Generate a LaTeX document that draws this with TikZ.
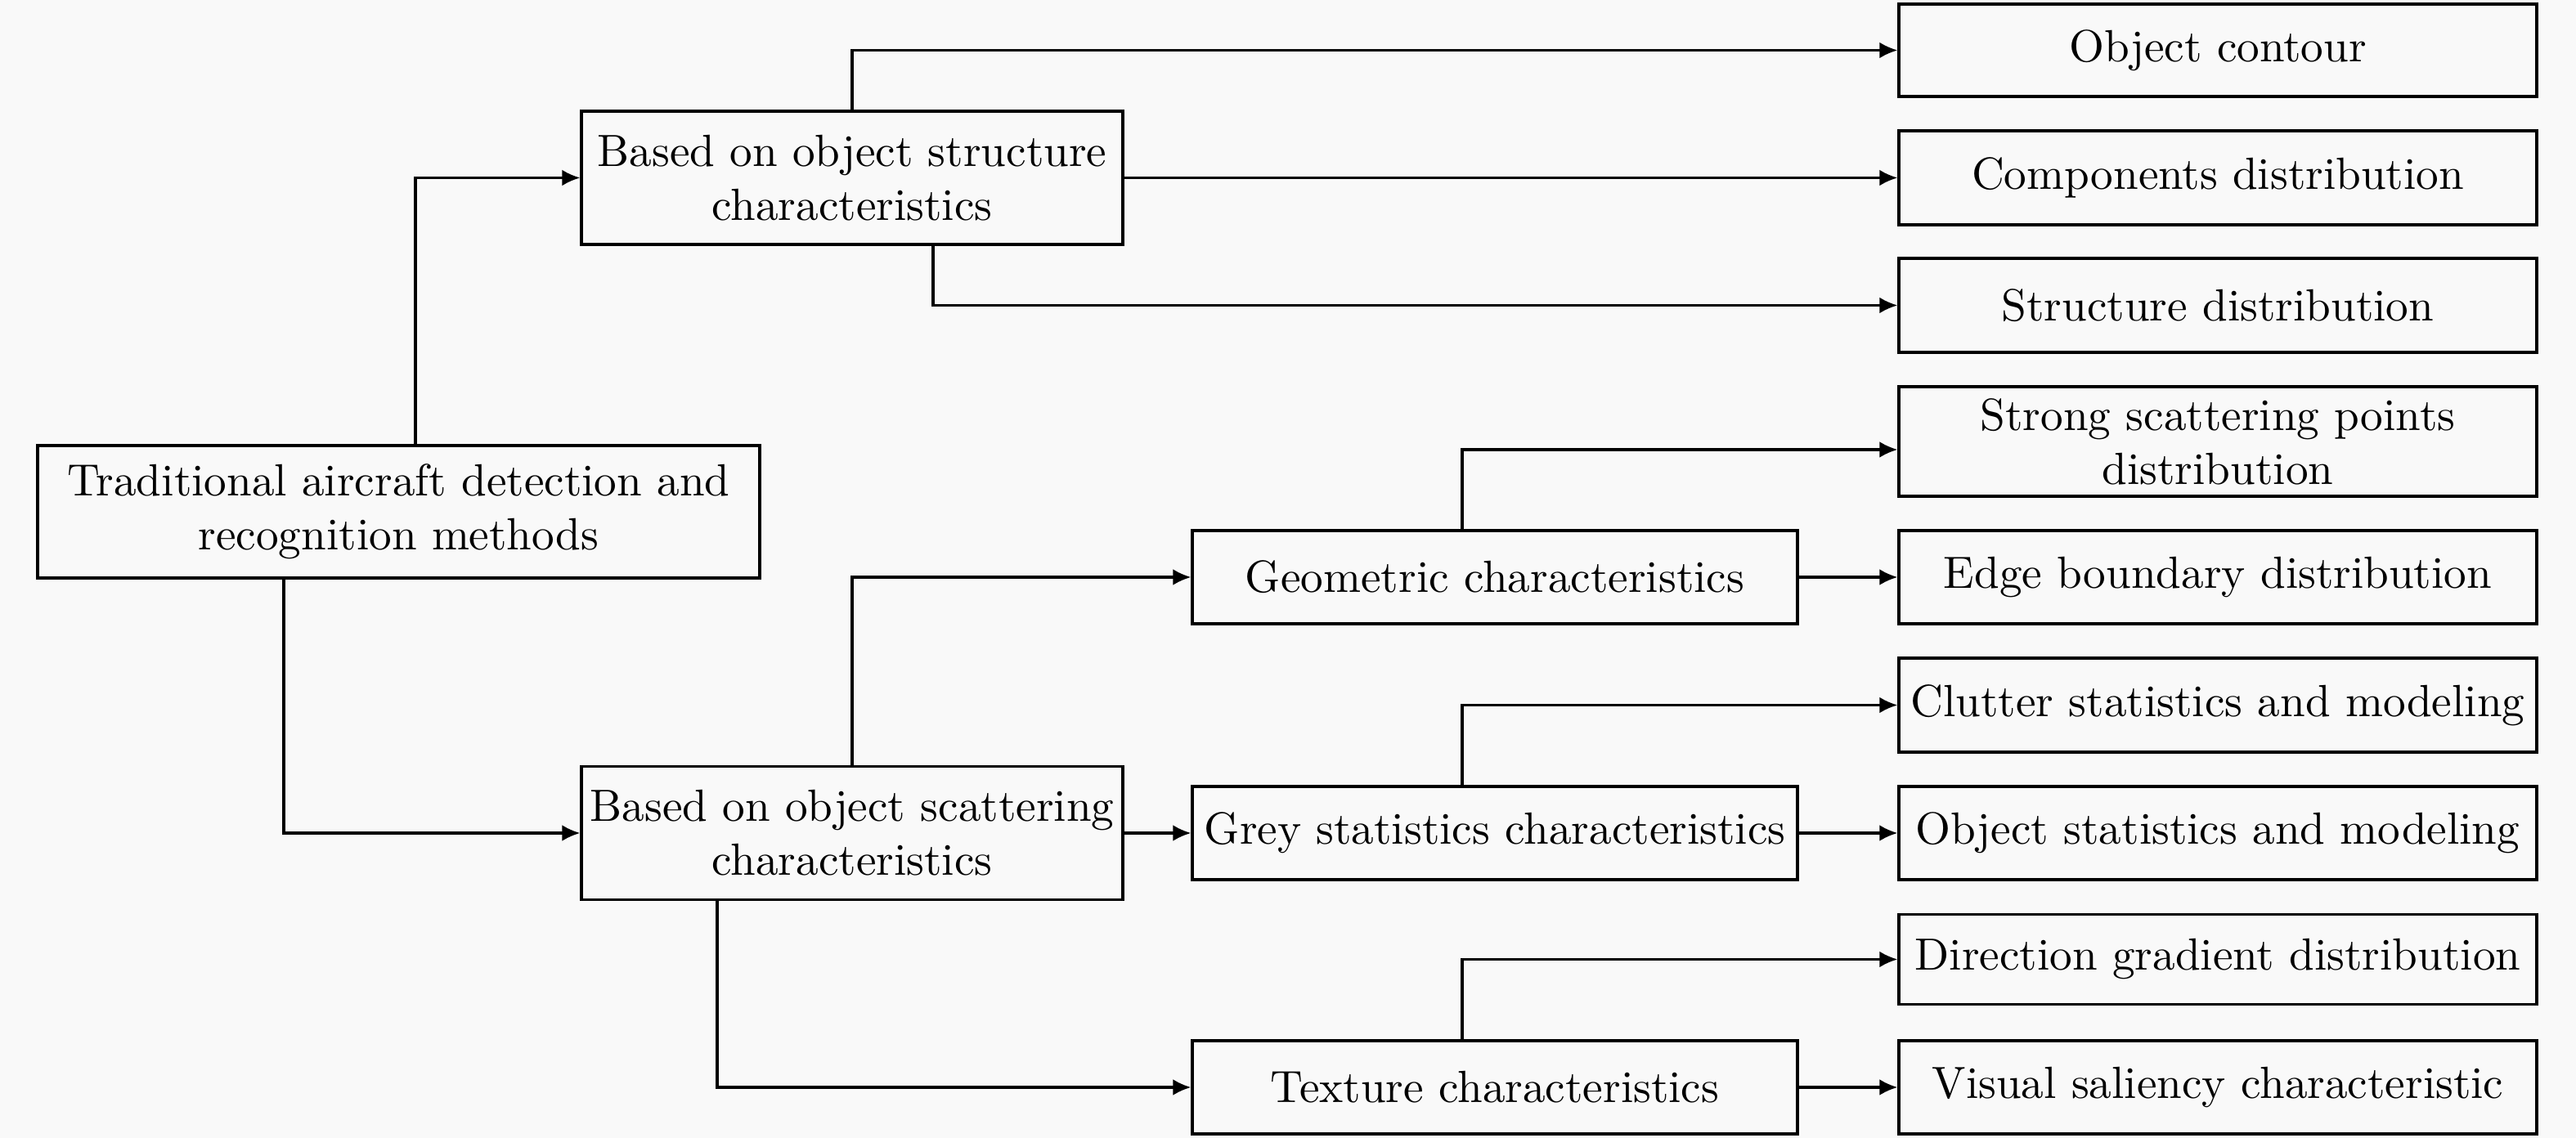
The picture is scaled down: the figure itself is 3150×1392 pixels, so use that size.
\documentclass[tikz,border=0pt]{standalone}
\usetikzlibrary{arrows.meta}
\definecolor{bgc}{RGB}{249,249,249}
\begin{document}
\begin{tikzpicture}[x=0.18116pt,y=-0.18116pt,
  box/.style={draw=black, line width=0.6pt, fill=bgc, align=center, inner sep=0pt},
  sz/.style 2 args={minimum width=#1*0.18116pt, minimum height=#2*0.18116pt},
  conn/.style={line width=0.55pt, -{Latex[length=4pt,width=3.6pt]}}]
\fill[bgc] (0,0) rectangle (3150,1392);
\useasboundingbox (0,0) rectangle (3150,1392);
% level 0
\node[box,sz={883}{162}] (root) at (487.5,626) {Traditional aircraft detection and\\recognition methods};
% level 1
\node[box,sz={662}{163}] (str) at (1042,217.5) {Based on object structure\\characteristics};
\node[box,sz={662}{163}] (sca) at (1042,1019) {Based on object scattering\\characteristics};
% level 2
\node[box,sz={740}{114}] (geo) at (1828,706) {Geometric characteristics};
\node[box,sz={740}{114}] (grey) at (1828,1019) {Grey statistics characteristics};
\node[box,sz={740}{114}] (tex) at (1828,1330) {Texture characteristics};
% leaves
\node[box,sz={780}{113}] (oc) at (2712,61.5) {Object contour};
\node[box,sz={780}{115}] (cd) at (2712,217.5) {Components distribution};
\node[box,sz={780}{115}] (sd) at (2712,373.5) {Structure distribution};
\node[box,sz={780}{134}] (ss) at (2712,540) {Strong scattering points\\distribution};
\node[box,sz={780}{114}] (eb) at (2712,706) {Edge boundary distribution};
\node[box,sz={780}{115}] (cs) at (2712,862.5) {Clutter statistics and modeling};
\node[box,sz={780}{114}] (os) at (2712,1019) {Object statistics and modeling};
\node[box,sz={780}{110}] (dg) at (2712,1173.5) {Direction gradient distribution};
\node[box,sz={780}{114}] (vs) at (2712,1330) {Visual saliency characteristic};
% helper coordinates
\coordinate (xa) at (508,0);
\coordinate (xb) at (347,0);
\coordinate (xc) at (1141,0);
\coordinate (xd) at (877,0);
\coordinate (xg) at (1788,0);
\coordinate (yss) at (0,550);
% connectors
\draw[conn] (root.north -| xa) |- (str.west);
\draw[conn] (root.south -| xb) |- (sca.west);
\draw[conn] (str.north) |- (oc.west);
\draw[conn] (str.east) -- (cd.west);
\draw[conn] (str.south -| xc) |- (sd.west);
\draw[conn] (sca.north) |- (geo.west);
\draw[conn] (sca.east) -- (grey.west);
\draw[conn] (sca.south -| xd) |- (tex.west);
\draw[conn] (geo.north -| xg) |- (ss.west |- yss);
\draw[conn] (geo.east) -- (eb.west);
\draw[conn] (grey.north -| xg) |- (cs.west);
\draw[conn] (grey.east) -- (os.west);
\draw[conn] (tex.north -| xg) |- (dg.west);
\draw[conn] (tex.east) -- (vs.west);
\end{tikzpicture}
\end{document}
